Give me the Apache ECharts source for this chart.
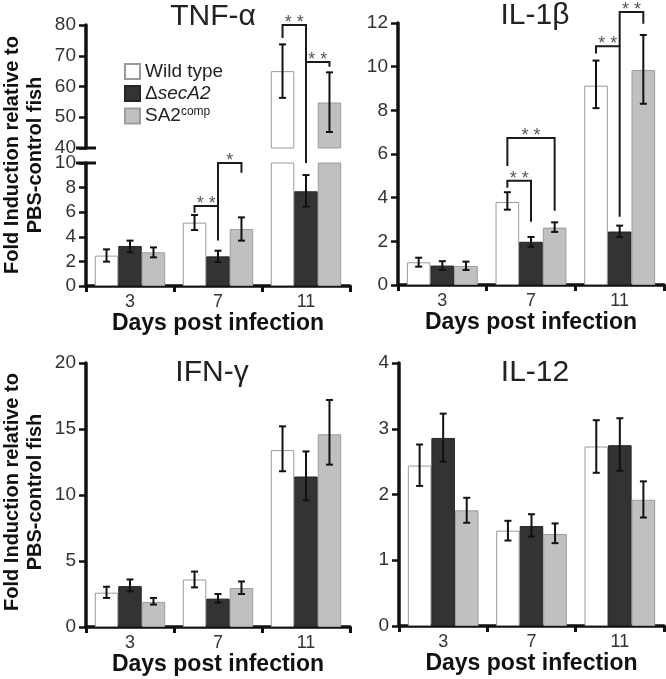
<!DOCTYPE html>
<html><head><meta charset="utf-8">
<script src="https://cdn.jsdelivr.net/npm/echarts@6/dist/echarts.min.js"></script>
<style>html,body{margin:0;padding:0;background:#fff}#c{width:666px;height:679px}</style>
</head><body><div id="c"></div>
<script>
const FONT = "'Liberation Sans', Arial, sans-serif";
const categories = ['3', '7', '11'];
const seriesKeys = ['WT', 'KO', 'COMP'];
const xTitle = 'Days post infection';
const yTitle = 'Fold Induction relative to\nPBS-control fish';

// TNF-alpha (broken axis: lower 0-10, upper 40-80)
const tnfWT = [2.47, 5.15, 65.0];
const tnfKO = [3.25, 2.41, 7.7];
const tnfCOMP = [2.74, 4.63, 54.8];
const tnfWTErr = [[1.98, 2.98], [4.55, 5.77], [56.3, 73.7]];
const tnfKOErr = [[2.74, 3.69], [1.95, 2.87], [6.45, 9.02]];
const tnfCOMPErr = [[2.33, 3.14], [3.69, 5.58], [45.2, 64.6]];
const tnfLowerTicks = [0, 10, 2];
const tnfUpperTicks = [40, 80, 10];
// [category, fromGroup, toGroup, top, leftLegEnd, rightLegEnd, label]
const tnfBrackets = [
  [1, 0, 1, 6.5, 5.95, 3.7, '* *'],
  [1, 1, 2, 10.0, 6.5, 9.2, '*'],
  [2, 0, 1, 80, 75.8, 10, '* *'],
  [2, 1, 2, 68, 68, 66.4, '* *']
];

// IL-1beta
const il1WT = [1.04, 3.8, 9.13];
const il1KO = [0.89, 1.98, 2.45];
const il1COMP = [0.87, 2.63, 9.85];
const il1WTErr = [[0.84, 1.25], [3.45, 4.25], [8.1, 10.28]];
const il1KOErr = [[0.69, 1.09], [1.75, 2.2], [2.2, 2.72]];
const il1COMPErr = [[0.69, 1.07], [2.43, 2.87], [8.3, 11.45]];
const il1Ticks = [0, 12, 2];
const il1Brackets = [
  [1, 0, 1, 4.77, 4.45, 2.9, '* *'],
  [1, 0, 2, 6.73, 5.45, 3.4, '* *'],
  [2, 0, 1, 10.93, 10.6, 3.13, '* *'],
  [2, 1, 2, 12.5, 10.93, 11.97, '* *']
];

// IFN-gamma
const ifnWT = [2.6, 3.6, 13.4];
const ifnKO = [3.1, 2.15, 11.4];
const ifnCOMP = [1.9, 2.95, 14.6];
const ifnWTErr = [[2.2, 3.05], [3.0, 4.2], [11.8, 15.2]];
const ifnKOErr = [[2.7, 3.6], [1.85, 2.5], [9.6, 13.3]];
const ifnCOMPErr = [[1.7, 2.2], [2.5, 3.45], [12.3, 17.2]];
const ifnTicks = [0, 20, 5];

// IL-12
const il12WT = [2.44, 1.45, 2.73];
const il12KO = [2.86, 1.52, 2.75];
const il12COMP = [1.76, 1.4, 1.92];
const il12WTErr = [[2.13, 2.76], [1.3, 1.6], [2.33, 3.13]];
const il12KOErr = [[2.5, 3.23], [1.36, 1.7], [2.36, 3.16]];
const il12COMPErr = [[1.57, 1.95], [1.26, 1.56], [1.65, 2.2]];
const il12Ticks = [0, 4, 1];

const barStyles = [
  {color: '#ffffff', borderColor: '#9a9a9a', borderWidth: 1},
  {color: '#333333', borderColor: '#262626', borderWidth: 1},
  {color: '#c0c0c0', borderColor: '#9c9c9c', borderWidth: 1}
];

// grid index: 0 TNF upper, 1 TNF lower, 2 IL-1b, 3 IFN-g, 4 IL-12
const grids = [
  {left: 86, top: 25, width: 264, height: 123},
  {left: 86, top: 163, width: 264, height: 123},
  {left: 398, top: 23, width: 266, height: 262},
  {left: 86, top: 363, width: 264, height: 264},
  {left: 399, top: 363, width: 265, height: 263}
];

const panelData = [
  {grid: 0, means: [tnfWT, tnfKO, tnfCOMP], errs: [tnfWTErr, tnfKOErr, tnfCOMPErr], ticks: tnfUpperTicks, keep: v => v > 10, xShow: false},
  {grid: 1, means: [tnfWT, tnfKO, tnfCOMP], errs: [tnfWTErr, tnfKOErr, tnfCOMPErr], ticks: tnfLowerTicks, keep: v => v <= 10, xShow: true},
  {grid: 2, means: [il1WT, il1KO, il1COMP], errs: [il1WTErr, il1KOErr, il1COMPErr], ticks: il1Ticks, keep: () => true, xShow: true},
  {grid: 3, means: [ifnWT, ifnKO, ifnCOMP], errs: [ifnWTErr, ifnKOErr, ifnCOMPErr], ticks: ifnTicks, keep: () => true, xShow: true},
  {grid: 4, means: [il12WT, il12KO, il12COMP], errs: [il12WTErr, il12KOErr, il12COMPErr], ticks: il12Ticks, keep: () => true, xShow: true}
];

const axisColor = '#111';
const xAxes = [], yAxes = [], series = [];
panelData.forEach(p => {
  xAxes.push({
    type: 'category', gridIndex: p.grid, data: categories, show: p.xShow,
    axisLine: {show: true, lineStyle: {color: axisColor, width: 3.5}},
    axisTick: {show: true, length: 6, lineStyle: {color: axisColor, width: 3}},
    axisLabel: {fontSize: 18, color: '#333', fontFamily: FONT, margin: 7},
    name: xTitle, nameLocation: 'middle', nameGap: 24,
    nameTextStyle: {fontSize: 23, fontWeight: 'bold', color: '#111', fontFamily: FONT}
  });
  yAxes.push({
    type: 'value', gridIndex: p.grid, min: p.ticks[0], max: p.ticks[1], interval: p.ticks[2],
    axisLine: {show: true, lineStyle: {color: axisColor, width: 3.5}},
    axisTick: {show: true, length: 7, lineStyle: {color: axisColor, width: 2.5}},
    splitLine: {show: false},
    axisLabel: {fontSize: 19, color: '#333', fontFamily: FONT, margin: 10}
  });
  p.means.forEach((arr, g) => {
    series.push({
      type: 'bar', name: seriesKeys[g], xAxisIndex: p.grid, yAxisIndex: p.grid,
      data: arr, clip: true, barGap: '0%', barCategoryGap: '20%',
      itemStyle: barStyles[g], emphasis: {disabled: true}, silent: true
    });
  });
  const errData = [];
  p.errs.forEach((arr, g) => arr.forEach((e, c) => {
    if (p.keep(p.means[g][c])) errData.push([c, g, e[0], e[1]]);
  }));
  series.push({
    type: 'custom', name: 'err' + p.grid, xAxisIndex: p.grid, yAxisIndex: p.grid,
    data: errData, encode: {x: 0, y: 2}, z: 5, silent: true,
    renderItem: (params, api) => {
      const c = api.value(0), g = api.value(1);
      const band = api.size([1, 0])[0];
      const lo = api.coord([c, api.value(2)]);
      const hi = api.coord([c, api.value(3)]);
      const x = lo[0] + (g - 1) * band * 0.8 / 3;
      const st = {stroke: '#111', lineWidth: 2};
      const cap = 3.5;
      return {type: 'group', children: [
        {type: 'line', shape: {x1: x, y1: lo[1], x2: x, y2: hi[1]}, style: st},
        {type: 'line', shape: {x1: x - cap, y1: lo[1], x2: x + cap, y2: lo[1]}, style: st},
        {type: 'line', shape: {x1: x - cap, y1: hi[1], x2: x + cap, y2: hi[1]}, style: st}
      ]};
    }
  });
});

const chart = echarts.init(document.getElementById('c'), null, {renderer: 'canvas'});
chart.setOption({
  animation: false,
  backgroundColor: '#ffffff',
  grid: grids,
  xAxis: xAxes,
  yAxis: yAxes,
  series: series,
  legend: {
    data: seriesKeys, orient: 'vertical', left: 119, top: 57, padding: 5,
    icon: 'rect', itemWidth: 15, itemHeight: 15, itemGap: 3, selectedMode: false,
    formatter: n => ({WT: '{n|Wild type}', KO: '{n|Δ}{i|secA2}', COMP: '{n|SA2}{s|comp}'}[n]),
    textStyle: {
      fontSize: 19, color: '#222', fontFamily: FONT,
      rich: {
        n: {fontSize: 19, color: '#222', fontFamily: FONT, lineHeight: 20},
        i: {fontSize: 19, color: '#222', fontFamily: FONT, fontStyle: 'italic', lineHeight: 20},
        s: {fontSize: 12, color: '#222', fontFamily: FONT, verticalAlign: 'top', lineHeight: 20}
      }
    }
  }
});

// annotations in data units converted through the chart's own axes
function px(gridIndex, c, g, v) {
  const a = chart.convertToPixel({gridIndex: gridIndex}, [c, v]);
  const b = chart.convertToPixel({gridIndex: gridIndex}, [c + 1, v]);
  const band = b[0] - a[0];
  return [a[0] + (g - 1) * band * 0.8 / 3, a[1], band];
}
const graphics = [];
const lineSt = {stroke: '#1a1a1a', lineWidth: 2};
function addBrackets(list, gridOf) {
  list.forEach(b => {
    const [c, g1, g2, top, le, re, label] = b;
    const p1 = px(gridOf(top), c, g1, top);
    const p2 = px(gridOf(top), c, g2, top);
    const l1 = px(gridOf(le), c, g1, le);
    const r1 = px(gridOf(re), c, g2, re);
    graphics.push({type: 'polyline', shape: {points: [[l1[0], l1[1]], [p1[0], p1[1]], [p2[0], p2[1]], [r1[0], r1[1]]]}, style: Object.assign({fill: null}, lineSt), z: 10});
    graphics.push({type: 'text', x: (p1[0] + p2[0]) / 2, y: p1[1] - 2, z: 10,
      style: {text: label, font: '18px ' + FONT, fill: '#555', textAlign: 'center', textVerticalAlign: 'middle', align: 'center', verticalAlign: 'middle'}});
  });
}
addBrackets(tnfBrackets, v => v > 10 ? 0 : 1);
addBrackets(il1Brackets, () => 2);

// axis break marks
const b40 = px(0, 0, 1, tnfUpperTicks[0]);
const b10 = px(1, 0, 1, tnfLowerTicks[1]);
[b40, b10].forEach(p => {
  const ax = p[0] - p[2] / 2;
  graphics.push({type: 'line', shape: {x1: ax - 10, y1: p[1], x2: ax + 10, y2: p[1]}, style: {stroke: '#111', lineWidth: 3}, z: 10});
});

// panel titles and y-axis titles
const titles = [['TNF-α', 213, 16.5], ['IL-1β', 535, 16], ['IFN-γ', 212, 373], ['IL-12', 535, 373]];
titles.forEach(t => graphics.push({type: 'text', x: t[1], y: t[2], z: 10,
  style: {text: t[0], font: '30px ' + FONT, fill: '#222', textAlign: 'center', textVerticalAlign: 'middle', align: 'center', verticalAlign: 'middle'}}));
[155, 492].forEach(y => graphics.push({type: 'text', x: 24, y: y, rotation: Math.PI / 2, z: 10,
  style: {text: yTitle, font: 'bold 20px ' + FONT, fill: '#111', lineHeight: 23, textAlign: 'center', textVerticalAlign: 'middle', align: 'center', verticalAlign: 'middle'}}));

chart.setOption({graphic: graphics});
</script>
</body></html>
